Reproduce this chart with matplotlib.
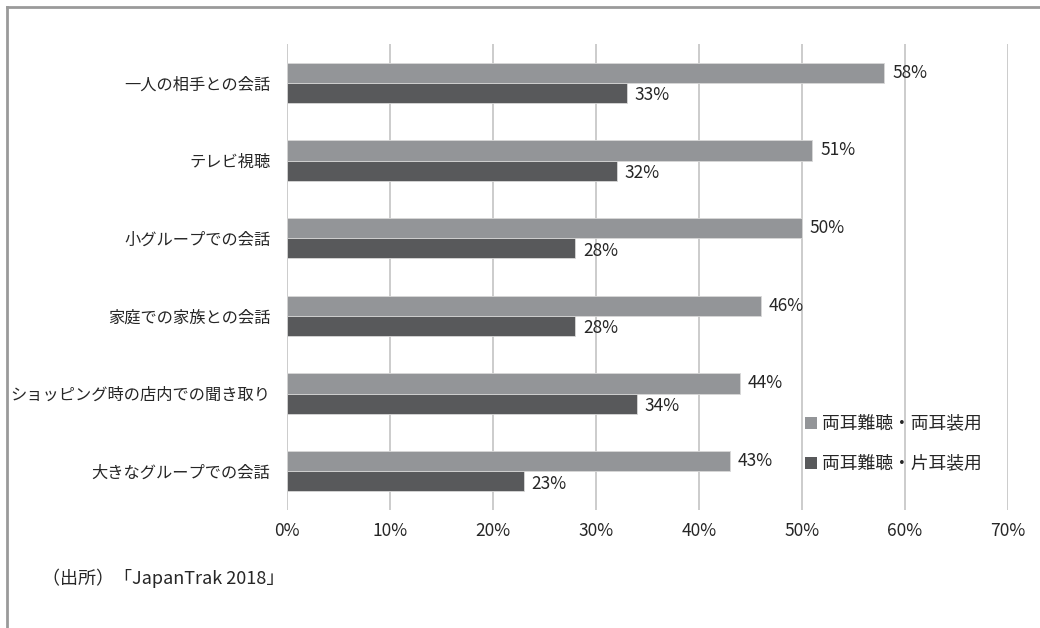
import matplotlib
matplotlib.use("Agg")
import matplotlib.pyplot as plt
from matplotlib.lines import Line2D
from matplotlib.patches import Rectangle
import numpy as np

plt.rcParams['font.family'] = ['Noto Sans CJK JP', 'DejaVu Sans']

categories = ["一人の相手との会話", "テレビ視聴", "小グループでの会話",
              "家庭での家族との会話", "ショッピング時の店内での聞き取り",
              "大きなグループでの会話"]
both_ears = [58, 51, 50, 46, 44, 43]      # 両耳難聴・両耳装用
one_ear = [33, 32, 28, 28, 34, 23]        # 両耳難聴・片耳装用
series_names = ["両耳難聴・両耳装用", "両耳難聴・片耳装用"]
x_ticks = [0, 10, 20, 30, 40, 50, 60, 70]
source_note = "（出所）「JapanTrak 2018」"

c_light = "#939598"
c_dark = "#58595b"
txt = "#262626"

fig = plt.figure(figsize=(10.4, 6.28), dpi=100)
ax = fig.add_axes([287/1040, 1-510/628, (1008-287)/1040, (510-44)/628])

n = len(categories)
y = np.arange(n)
h = 0.26
ax.barh(y - h/2, both_ears, height=h, color=c_light, edgecolor="#d8d8d8", linewidth=0.6, zorder=3)
ax.barh(y + h/2, one_ear, height=h, color=c_dark, edgecolor="#d8d8d8", linewidth=0.6, zorder=3)

for yi, v in zip(y, both_ears):
    ax.text(v + 0.75, yi - h/2, f"{v}%", va="center", ha="left", fontsize=12.5,
            color=txt, zorder=4)
for yi, v in zip(y, one_ear):
    ax.text(v + 0.75, yi + h/2 + 0.03, f"{v}%", va="center", ha="left", fontsize=12.5,
            color=txt, zorder=4)

ax.set_xlim(0, 70)
ax.set_ylim(n - 0.5, -0.5)
ax.set_xticks(x_ticks)
ax.set_xticklabels([f"{t}%" for t in x_ticks], fontsize=12.5, color=txt)
ax.set_yticks(y)
ax.set_yticklabels(categories, fontsize=11.7, color=txt)
ax.tick_params(axis='both', length=0)
ax.tick_params(axis='y', pad=12)
ax.tick_params(axis='x', pad=9)
ax.grid(axis='x', color="#c4c4c4", linewidth=1.2, zorder=0)
for s in ax.spines.values():
    s.set_visible(False)

# legend drawn as figure elements
leg_y = [423, 463]
for ly, col, name in zip(leg_y, [c_light, c_dark], series_names):
    fig.patches.append(Rectangle((805/1040, 1-(ly+6)/628), 12/1040, 12/628,
                                 transform=fig.transFigure, facecolor=col, edgecolor='none'))
    fig.text(822/1040, 1-ly/628, name, va="center", ha="left", fontsize=12.8, color=txt)

fig.text(42/1040, 1-578/628, source_note, va="center", ha="left", fontsize=13, color=txt)

# frame along top and left edges
fig.lines.append(Line2D([7/1040, 1], [1-7/628, 1-7/628], transform=fig.transFigure,
                        color="#9a9a9a", linewidth=2))
fig.lines.append(Line2D([7/1040, 7/1040], [0, 1-7/628], transform=fig.transFigure,
                        color="#9a9a9a", linewidth=2))

fig.savefig("out.png", dpi=100, facecolor="white")
